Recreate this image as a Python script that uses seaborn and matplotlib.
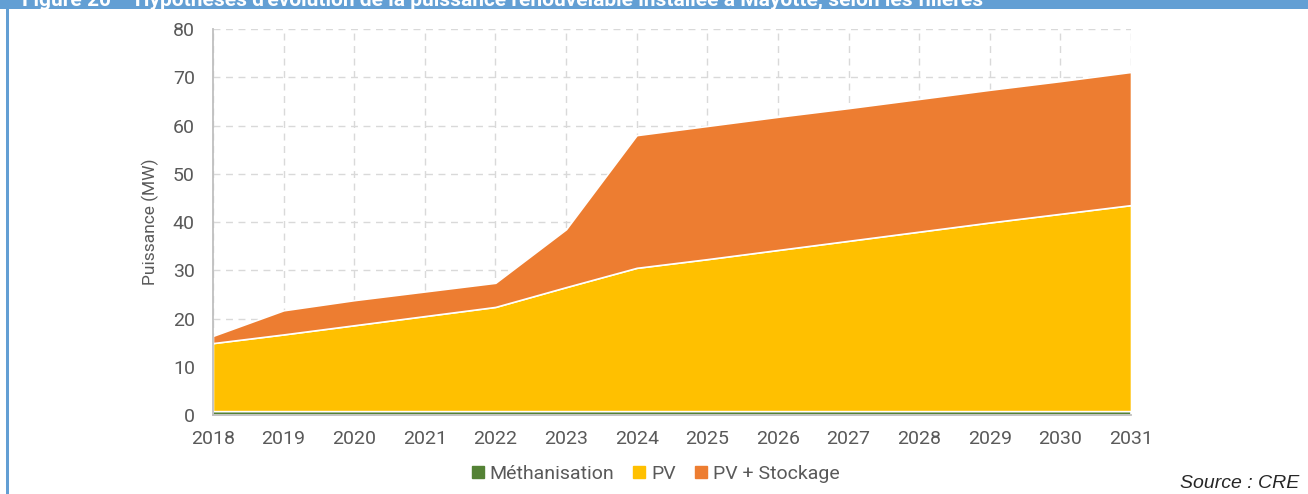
import matplotlib
matplotlib.use('Agg')
import matplotlib.pyplot as plt
from matplotlib.lines import Line2D
import pandas as pd
import seaborn as sns

# values (MW)
years = list(range(2018, 2032))
methanisation = [0.8] * 14
pv = [14.1, 15.9, 17.8, 19.7, 21.6, 25.7, 29.7, 31.5, 33.4, 35.3, 37.2, 39.1, 40.9, 42.7]
pv_stockage = [1.5, 5.0, 5.2, 5.1, 5.0, 12.0, 27.5, 27.6, 27.6, 27.5, 27.5, 27.5, 27.5, 27.6]

series_names = ['Méthanisation', 'PV', 'PV + Stockage']
colors = ['#548235', '#FFC000', '#ED7D31']
title = ("Figure 20 – Hypothèses d'évolution de la puissance renouvelable "
         "installée à Mayotte, selon les filières")

df = pd.DataFrame({
    'annee': years * 3,
    'mw': methanisation + pv + pv_stockage,
    'filiere': [n for n in series_names for _ in years],
})

sns.set_theme(style='white')
plt.rcParams['font.family'] = ['Roboto', 'DejaVu Sans']
text_grey = '#595959'

fig = plt.figure(figsize=(13.08, 4.94), dpi=100)
ax = fig.add_axes([0.1628, 0.1599, 0.7019, 0.7814])

# seaborn stacks the first hue level on top, so pass the order reversed
sns.histplot(
    data=df, x='annee', weights='mw', hue='filiere',
    hue_order=series_names[::-1],
    palette=dict(zip(series_names, colors)),
    multiple='stack', element='poly', discrete=True,
    alpha=1, linewidth=1.2, edgecolor='white',
    legend=False, ax=ax,
)

ax.set_xlim(2018, 2031)
ax.set_ylim(0, 80)
ax.set_xticks(years)
ax.set_yticks(range(0, 81, 10))
ax.grid(True, color='#D9D9D9', linestyle=(0, (5, 4)), linewidth=1)
ax.set_axisbelow(True)
for side in ['top', 'right']:
    ax.spines[side].set_visible(False)
for side in ['left', 'bottom']:
    ax.spines[side].set_color('#BFBFBF')
    ax.spines[side].set_linewidth(1.3)
    ax.spines[side].set_zorder(5)
ax.tick_params(axis='both', length=0, labelsize=14, labelcolor=text_grey)
ax.tick_params(axis='y', pad=13)
ax.tick_params(axis='x', pad=11)
ax.set_xlabel('')
ax.set_ylabel('Puissance (MW)', fontsize=12.5, color=text_grey, labelpad=10)

handles = [Line2D([], [], marker='s', linestyle='', markersize=9,
                  markerfacecolor=c, markeredgecolor=c) for c in colors]
fig.legend(handles, series_names, loc='center', bbox_to_anchor=(0.499, 0.041),
           ncol=3, frameon=False, fontsize=14, labelcolor=text_grey,
           handletextpad=0.0, columnspacing=0.7, handlelength=1.2)

# header bar and left border of the report frame, title clipped at the top
fig.patches.append(plt.Rectangle((0, 1 - 9 / 494), 1, 9 / 494, transform=fig.transFigure,
                                 facecolor='#639FD4', edgecolor='none', zorder=0))
fig.patches.append(plt.Rectangle((6 / 1308, 0), 2.5 / 1308, 1, transform=fig.transFigure,
                                 facecolor='#639FD4', edgecolor='none', zorder=0))
fig.text(22 / 1308, 1 - 6 / 494, title, color='white', fontsize=15, fontweight='bold',
         va='baseline', ha='left')

fig.text(0.993, 0.004, 'Source : CRE', fontsize=14, style='italic',
         family=['Liberation Sans', 'DejaVu Sans'], ha='right', va='bottom')

fig.savefig('out.png', dpi=100)
